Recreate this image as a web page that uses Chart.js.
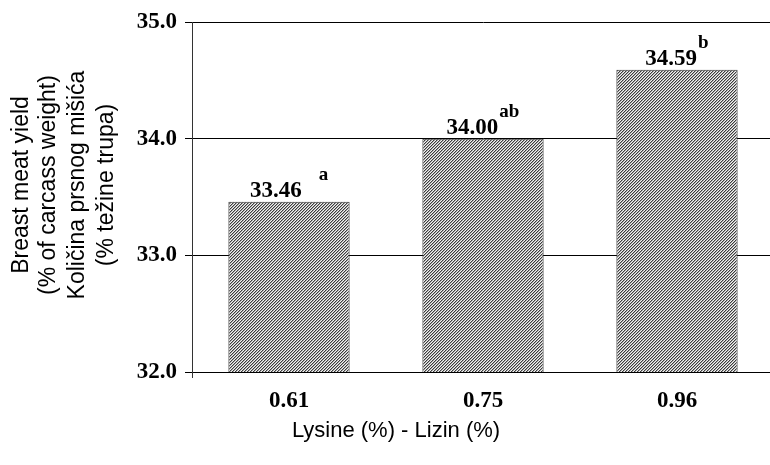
<!DOCTYPE html>
<html>
<head>
<meta charset="utf-8">
<script src="https://cdn.jsdelivr.net/npm/chart.js@4/dist/chart.umd.min.js"></script>
<style>
html,body{margin:0;padding:0;background:#fff;overflow:hidden;width:770px;height:465px;}
canvas{display:block;}
</style>
</head>
<body>
<canvas id="c" width="774" height="465"></canvas>
<script>
// ---- data ----
const categories = ['0.61', '0.75', '0.96'];
const values = [33.46, 34.00, 34.59];
const letters = ['a', 'ab', 'b'];
const yTickValues = [32.0, 33.0, 34.0, 35.0];
const yTitleLines = ['Breast meat yield', '(% of carcass weight)', 'Količina prsnog mišića', '(% težine trupa)'];
const xTitle = 'Lysine (%) - Lizin (%)';

// ---- hatch pattern ----
function makePattern() {
  const p = document.createElement('canvas');
  p.width = 3; p.height = 3;
  const g = p.getContext('2d');
  const cols = ['#3c3c3c', '#a8a8a8', '#f2f2f2'];
  for (let x = 0; x < 3; x++) for (let y = 0; y < 3; y++) {
    g.fillStyle = cols[(x + y) % 3];
    g.fillRect(x, y, 1, 1);
  }
  return document.getElementById('c').getContext('2d').createPattern(p, 'repeat');
}

const serif = '"Liberation Serif", "Times New Roman", serif';
const sans = '"Liberation Sans", Arial, sans-serif';

const labelPlugin = {
  id: 'labels',
  afterDatasetsDraw(chart) {
    const ctx = chart.ctx;
    const meta = chart.getDatasetMeta(0);
    const gaps = [17, 1, 1];
    ctx.save();
    meta.data.forEach((bar, i) => {
      const num = values[i].toFixed(2);
      ctx.font = 'bold 23px ' + serif;
      const wn = ctx.measureText(num).width;
      ctx.font = 'bold 19px ' + serif;
      const ws = ctx.measureText(letters[i]).width;
      const total = wn + gaps[i] + ws;
      const x0 = bar.x - total / 2;
      const base = bar.y - 5;
      ctx.fillStyle = '#000';
      ctx.textBaseline = 'alphabetic';
      ctx.textAlign = 'left';
      ctx.font = 'bold 23px ' + serif;
      ctx.fillText(num, x0, base);
      ctx.font = 'bold 19px ' + serif;
      ctx.fillText(letters[i], x0 + wn + gaps[i], base - 17);
    });
    ctx.restore();
  }
};

const titlePlugin = {
  id: 'titles',
  afterDraw(chart) {
    const ctx = chart.ctx;
    ctx.save();
    ctx.fillStyle = '#000';
    ctx.font = '22px ' + sans;
    ctx.textAlign = 'center';
    ctx.textBaseline = 'middle';
    ctx.fillText(xTitle, 396, 431);
    const xs = [22, 49, 78, 107];
    ctx.font = '23px ' + sans;
    yTitleLines.forEach((t, i) => {
      ctx.save();
      ctx.translate(xs[i], 185);
      ctx.rotate(-Math.PI / 2);
      ctx.fillText(t, 0, 0);
      ctx.restore();
    });
    const a = chart.chartArea;
    ctx.strokeStyle = '#333';
    ctx.lineWidth = 1;
    ctx.beginPath();
    ctx.moveTo(Math.round(a.left) + 0.5, a.bottom);
    ctx.lineTo(Math.round(a.left) + 0.5, a.bottom + 6);
    ctx.stroke();
    ctx.restore();
  }
};

new Chart(document.getElementById('c'), {
  type: 'bar',
  data: {
    labels: categories,
    datasets: [{
      data: values,
      backgroundColor: makePattern(),
      borderColor: '#333333',
      borderWidth: 1,
      borderSkipped: false,
      categoryPercentage: 1.0,
      barPercentage: 0.625
    }]
  },
  options: {
    responsive: false,
    animation: false,
    devicePixelRatio: 1,
    layout: { padding: { top: 22, right: 0, left: 0, bottom: 0 } },
    plugins: { legend: { display: false }, tooltip: { enabled: false } },
    scales: {
      x: {
        offset: true,
        grid: { display: false, drawTicks: false },
        border: { display: false },
        ticks: { color: '#000', font: { family: serif, size: 23, weight: 'bold' }, padding: 15 },
        afterFit(s) { s.height = 93; }
      },
      y: {
        min: 32, max: 35,
        afterBuildTicks(s) { s.ticks = yTickValues.map(v => ({ value: v })); },
        grid: { color: '#000', lineWidth: 1, drawTicks: true, tickLength: 7, tickColor: '#000' },
        border: { display: true, color: '#333', width: 1 },
        ticks: {
          color: '#000', padding: 8,
          font: { family: serif, size: 23, weight: 'bold' },
          callback: v => Number(v).toFixed(1)
        },
        afterFit(s) { s.width = 192; }
      }
    }
  },
  plugins: [labelPlugin, titlePlugin]
});
</script>
</body>
</html>
